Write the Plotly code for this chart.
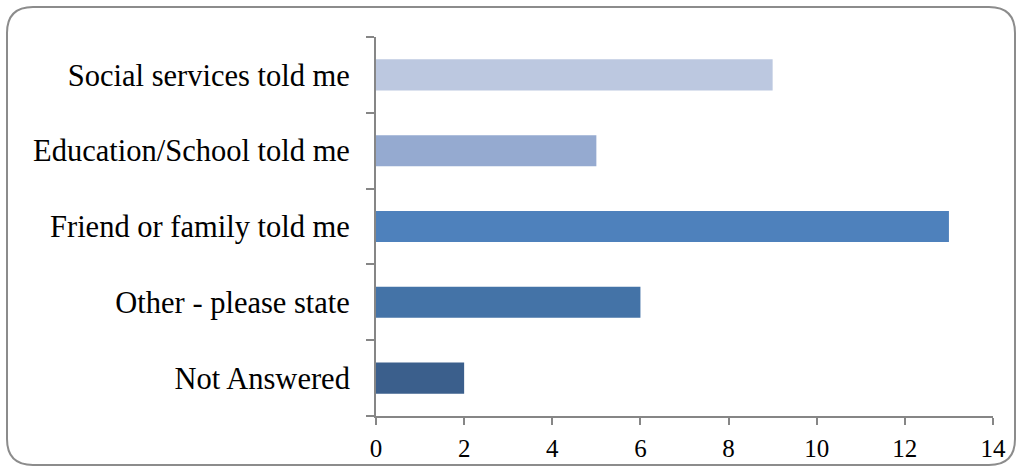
import plotly.graph_objects as go

categories = ["Not Answered", "Other - please state", "Friend or family told me",
              "Education/School told me", "Social services told me"]
values = [2, 6, 13, 5, 9]
colors = ["#3B5F8C", "#4473A7", "#4E81BC", "#95AAD0", "#BCC8E0"]
x_ticks = [0, 2, 4, 6, 8, 10, 12, 14]

W, H = 1022, 472
L, R, T, B = 376, 993, 37, 416

fig = go.Figure(go.Bar(
    x=values, y=categories, orientation="h",
    marker=dict(color=colors, line=dict(width=0)),
    width=0.41,
))

axis_col = "#868686"
font_family = "Liberation Serif"

fig.update_layout(
    width=W, height=H,
    margin=dict(l=L, r=W - R, t=T, b=H - B),
    paper_bgcolor="white", plot_bgcolor="white",
    showlegend=False,
    font=dict(family=font_family, color="black"),
    xaxis=dict(range=[0, 14], tickvals=x_ticks, showgrid=False, zeroline=False,
               showline=True, linecolor=axis_col, linewidth=2, automargin=False,
               ticks="outside", ticklen=7, tickcolor=axis_col, tickwidth=2,
               tickfont=dict(size=25, family=font_family), ticklabelstandoff=2),
    yaxis=dict(categoryorder="array", categoryarray=categories,
               range=[-0.5, 4.5], showgrid=False, zeroline=False, automargin=False,
               showline=True, linecolor=axis_col, linewidth=2,
               ticks="outside", ticklen=8, tickcolor=axis_col, tickwidth=2,
               tickson="boundaries",
               tickfont=dict(size=30.5, family=font_family), ticklabelstandoff=18),
)

# rounded border around the whole chart
pw, ph = R - L, B - T
def px(x):
    return (x - L) / pw
def py(y):
    return (B - y) / ph
x0, y0, x1, y1, r = 7, 7, 1015, 465, 26
path = (f"M {px(x0 + r)},{py(y0)} L {px(x1 - r)},{py(y0)} "
        f"Q {px(x1)},{py(y0)} {px(x1)},{py(y0 + r)} "
        f"L {px(x1)},{py(y1 - r)} Q {px(x1)},{py(y1)} {px(x1 - r)},{py(y1)} "
        f"L {px(x0 + r)},{py(y1)} Q {px(x0)},{py(y1)} {px(x0)},{py(y1 - r)} "
        f"L {px(x0)},{py(y0 + r)} Q {px(x0)},{py(y0)} {px(x0 + r)},{py(y0)} Z")
fig.add_shape(type="path", xref="paper", yref="paper", path=path,
              line=dict(color="#8C8C8C", width=2), fillcolor="rgba(0,0,0,0)", layer="below")

fig.write_html("out.html")
